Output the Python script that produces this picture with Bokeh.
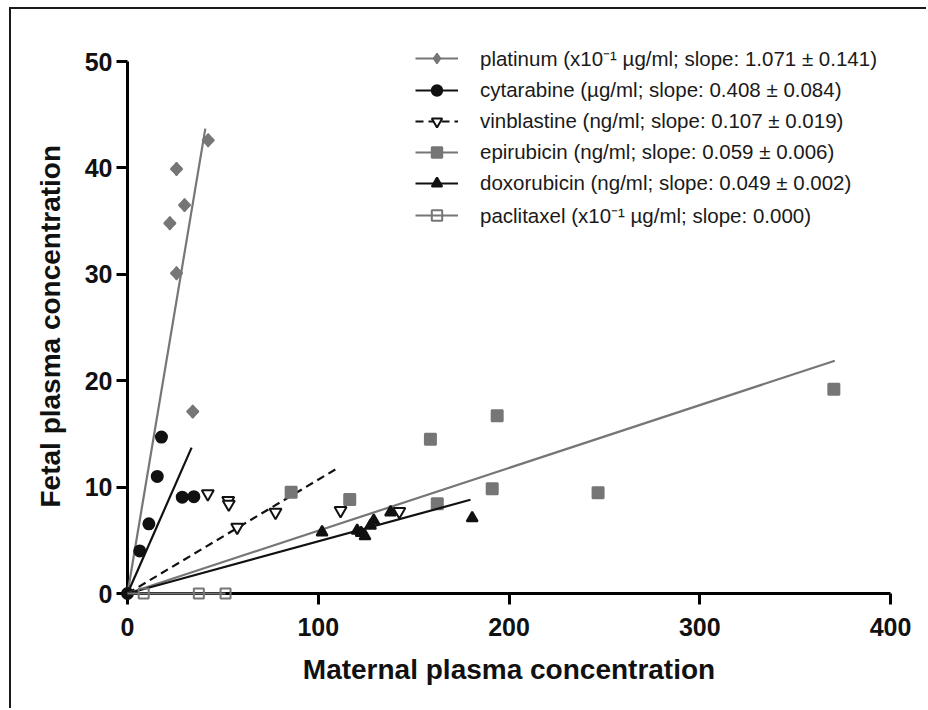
from bokeh.plotting import figure
from bokeh.models import Range1d, FixedTicker, Legend, LegendItem, Title
from bokeh.embed import file_html
from bokeh.resources import INLINE

# Maternal (x) vs fetal (y) plasma concentrations, one pair of lists per drug
platinum_x = [22.2, 25.7, 25.7, 29.9, 34.2, 42.3]
platinum_y = [34.8, 39.9, 30.1, 36.5, 17.1, 42.6]

cytarabine_x = [0, 6.4, 11.2, 15.6, 17.8, 28.7, 34.8]
cytarabine_y = [0, 4.0, 6.55, 11.0, 14.7, 9.05, 9.1]

vinblastine_x = [42.1, 52.8, 53.1, 57.5, 77.6, 111.7, 142.5]
vinblastine_y = [9.37, 8.74, 8.4, 6.23, 7.64, 7.8, 7.7]

epirubicin_x = [85.8, 116.5, 158.8, 162.4, 191.2, 193.8, 246.7, 370.3]
epirubicin_y = [9.52, 8.83, 14.5, 8.43, 9.84, 16.7, 9.46, 19.2]

doxorubicin_x = [102.0, 120.4, 122.5, 124.5, 127.4, 129.1, 137.9, 180.7]
doxorubicin_y = [5.76, 5.92, 5.7, 5.4, 6.39, 6.86, 7.64, 7.08]

paclitaxel_x = [8.5, 37.4, 51.4]
paclitaxel_y = [0, 0, 0]

# Regression through the origin: slope and the largest maternal value fitted
slopes = [1.071, 0.408, 0.107, 0.059, 0.049, 0.000]
fit_x_max = [40.8, 33.6, 109.0, 370.8, 179.8, 51.4]

labels = [
    "platinum (x10\u207b\u00b9 \u00b5g/ml; slope: 1.071 \u00b1 0.141)",
    "cytarabine (\u00b5g/ml; slope: 0.408 \u00b1 0.084)",
    "vinblastine (ng/ml; slope: 0.107 \u00b1 0.019)",
    "epirubicin (ng/ml; slope: 0.059 \u00b1 0.006)",
    "doxorubicin (ng/ml; slope: 0.049 \u00b1 0.002)",
    "paclitaxel (x10\u207b\u00b9 \u00b5g/ml; slope: 0.000)",
]

x_ticks = [0, 100, 200, 300, 400]
y_ticks = [0, 10, 20, 30, 40, 50]

GREY = "#767676"
BLACK = "#111111"
FONT = "Liberation Sans"

p = figure(width=917, height=701,
           x_range=Range1d(0, 400), y_range=Range1d(0, 54.7),
           output_backend="svg", toolbar_location=None,
           min_border_left=116, min_border_right=38,
           min_border_top=2, min_border_bottom=117)
p.margin = (7, 0, 0, 9)
p.styles = {"border-left": "2px solid #1a1a1a", "border-top": "2px solid #1a1a1a"}
p.grid.visible = False
p.outline_line_color = None
p.background_fill_color = "white"
p.border_fill_color = "white"

xa = p.xaxis[0]
ya = p.yaxis[0]
xa.ticker = FixedTicker(ticks=x_ticks)
ya.ticker = FixedTicker(ticks=y_ticks)
xa.bounds = (0, 400)
ya.bounds = (0, 50)
xa.axis_label = "Maternal plasma concentration"
for ax in (xa, ya):
    ax.axis_line_width = 3
    ax.axis_line_color = "black"
    ax.major_tick_line_width = 3
    ax.major_tick_line_color = "black"
    ax.major_tick_out = 11
    ax.major_tick_in = 0
    ax.minor_tick_line_color = None
    ax.major_label_text_font = FONT
    ax.major_label_text_font_style = "bold"
    ax.major_label_text_font_size = "25px"
    ax.major_label_text_color = "#111111"
    ax.axis_label_text_font = FONT
    ax.axis_label_text_font_style = "bold"
    ax.axis_label_text_font_size = "28px"
    ax.axis_label_text_color = "#111111"
xa.major_label_standoff = 13
ya.major_label_standoff = 4
xa.axis_label_standoff = 15

# y-axis title, started a fixed distance above the frame bottom so that it
# sits centred on the 0-50 span of the axis
y_title = Title(text="Fetal plasma concentration", align="left", offset=86,
                text_font=FONT, text_font_style="bold", text_font_size="28px",
                text_color="#111111", standoff=32)
p.add_layout(y_title, "left")

# (x, y, colour, marker, size, angle, fill, dash)
series = [
    (platinum_x, platinum_y, GREY, "square", 8, 0.785398, GREY, "solid"),
    (cytarabine_x, cytarabine_y, BLACK, "circle", 11, 0, BLACK, "solid"),
    (vinblastine_x, vinblastine_y, BLACK, "inverted_triangle", 12, 0, "white", "8 5"),
    (epirubicin_x, epirubicin_y, GREY, "square", 11, 0, GREY, "solid"),
    (doxorubicin_x, doxorubicin_y, BLACK, "triangle", 11, 0, BLACK, "solid"),
    (paclitaxel_x, paclitaxel_y, GREY, "square", 10, 0, None, "solid"),
]

items = []
for (xs, ys, color, marker, size, angle, fill, dash), slope, xmax, label in zip(
        series, slopes, fit_x_max, labels):
    line = p.line([0, xmax], [0, slope * xmax], line_color=color,
                  line_width=2.2, line_dash=dash, level="overlay")
    rends = [line]
    if angle:
        # diamond key drawn beneath the rotated squares, so the legend shows it
        key = p.scatter(xs, ys, marker="diamond", size=13, line_color=color,
                        line_width=1.5, fill_color=fill)
        rends.append(key)
    pts = p.scatter(xs, ys, marker=marker, size=size, angle=angle,
                    line_color=color, line_width=2, fill_color=fill,
                    level="overlay")
    if not angle:
        rends.append(pts)
    items.append(LegendItem(label=label, renderers=rends))

legend = Legend(items=items, location=(288, 364))
legend.label_text_font = FONT
legend.label_text_font_size = "20.5px"
legend.label_text_color = "#1a1a1a"
legend.glyph_width = 43
legend.glyph_height = 26
legend.label_height = 20
legend.spacing = 5
legend.label_standoff = 22
legend.padding = 0
legend.margin = 0
legend.border_line_color = None
legend.background_fill_alpha = 0
p.add_layout(legend)

open("out.html", "w").write(file_html(p, INLINE))
